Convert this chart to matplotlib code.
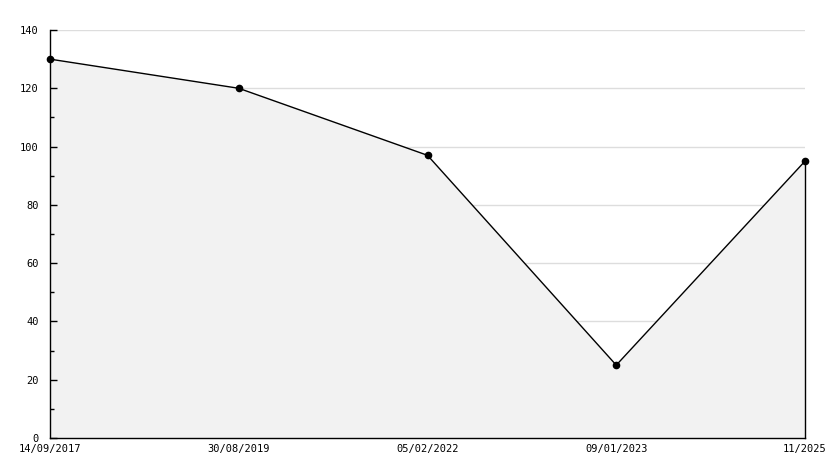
import matplotlib.pyplot as plt
import numpy as np

# data
dates = ["14/09/2017", "30/08/2019", "05/02/2022", "09/01/2023", "11/2025"]
values = [130, 120, 97, 25, 95]

x = np.arange(len(dates))

fig = plt.figure(figsize=(8.34, 4.68), dpi=100)
ax = fig.add_axes([50 / 834, 30 / 468, 755 / 834, 408 / 468])

# light grey area under the line
ax.fill_between(x, values, 0, color="#f2f2f2", edgecolor="none", zorder=1)
ax.plot([x[-1], x[-1]], [0, values[-1]], color="black", lw=1, zorder=2,
        clip_on=False)
ax.plot(x, values, color="black", lw=1, marker="o", markersize=4.5, zorder=3,
        clip_on=False)

ax.set_xlim(x[0], x[-1])
ax.set_ylim(0, 140)
ax.set_yticks(range(0, 141, 20))
ax.set_yticks(range(10, 140, 20), minor=True)
ax.set_xticks(x)
ax.set_xticklabels(dates)

for yy in range(20, 141, 20):
    ax.axhline(yy, color="#dddddd", lw=1, zorder=0)

for s in ["top", "right"]:
    ax.spines[s].set_visible(False)
for s in ["left", "bottom"]:
    ax.spines[s].set_linewidth(1)

ax.tick_params(axis="y", which="major", direction="in", length=5, width=1,
               labelsize=7.5, pad=8)
ax.tick_params(axis="y", which="minor", direction="in", length=3, width=1)
ax.tick_params(axis="x", length=0, labelsize=7.5, pad=4)
for lab in ax.get_xticklabels() + ax.get_yticklabels():
    lab.set_fontfamily("DejaVu Sans Mono")

fig.savefig("out.png", dpi=100)
